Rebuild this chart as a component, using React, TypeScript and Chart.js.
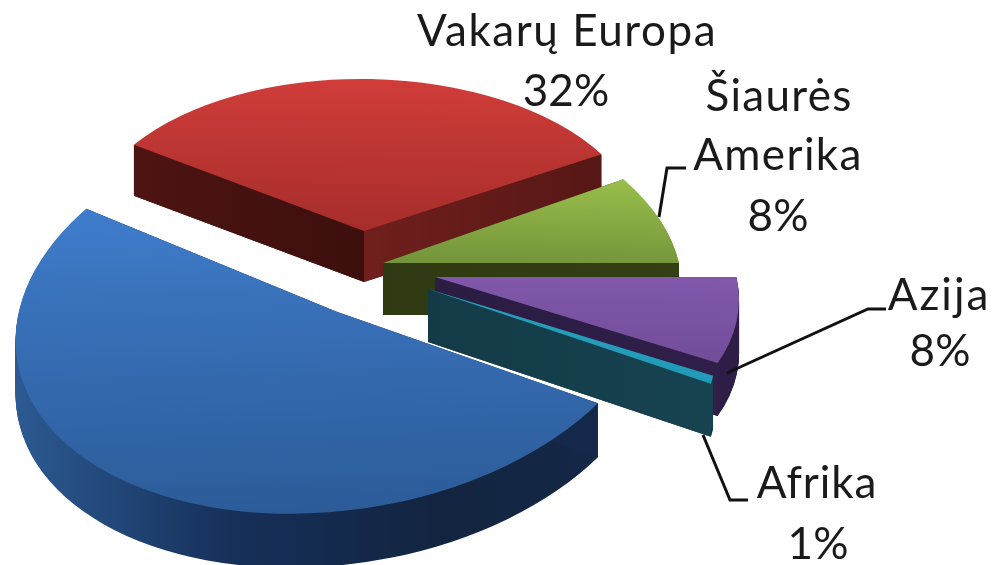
import React, { useEffect, useRef } from "react";
import { Chart, registerables } from "chart.js";

Chart.register(...registerables);

const categories = ["Vakarų Europa", "Šiaurės Amerika", "Azija", "Afrika", "Rytų Europa"];
const shares = [32, 8, 8, 1, 51];

// per-slice perspective projection of the unit pie: a,b,c,d linear part; e,f = explode origin
const projection = [
  { a: 277, b: 3, c: -2, d: 152, e: 364, f: 231, depth: 51 },
  { a: 297.5, b: 8, c: 26, d: 174, e: 383, f: 263, depth: 52 },
  { a: 303, b: 8, c: 24.5, d: 178.6, e: 435, f: 277, depth: 53 },
  { a: 267, b: 21, c: 103, d: 154, e: 428, f: 289, depth: 53 },
  { a: 319, b: -10, c: -30, d: 202, e: 336, f: 311.5, depth: 54 },
];
const topStops = [
  ["#d03d39", "#a62d2b", "#a62d2b"],
  ["#bbe65a", "#73933a", "#73933a"],
  ["#8e62bd", "#8057ab", "#5f4083"],
  ["#2aa8c6", "#25a0bd", "#1f94b0"],
  ["#4487dc", "#3870b8", "#2c5b98"],
];
const rimStops = [
  ["#4a1210", "#6e1d1a"],
  ["#3a4a16", "#33401a"],
  ["#2f1f4c", "#2e1d47"],
  ["#103a48", "#103a48"],
  ["#2c5a92", "#16305a", "#12243f", "#14294a"],
];
const faceStops = [
  [["#4d1412", "#3d0f0d"], ["#561715", "#701f1c"]],
  [["#343f14", "#343f14"], ["#343f14", "#303a12"]],
  [["#2e1f48", "#2e1f48"], ["#2f1f4a", "#2b1c42"]],
  [["#16414f", "#16414f"], ["#174350", "#133a47"]],
  [["#14294a", "#14294a"], ["#14294a", "#14294a"]],
];
const labelLines = [
  [{ t: "Vakarų Europa", x: 567, y: 32, s: 1.55 }, { t: "32%", x: 566, y: 92, s: 0 }],
  [{ t: "Šiaurės", x: 779, y: 97, s: 1.3 }, { t: "Amerika", x: 778, y: 156, s: 1.4 }, { t: "8%", x: 778, y: 217, s: 0 }],
  [{ t: "Azija", x: 939, y: 296, s: 2 }, { t: "8%", x: 940, y: 352, s: 0 }],
  [{ t: "Afrika", x: 817, y: 484, s: 0.9 }, { t: "1%", x: 818, y: 545, s: 0 }],
];
const leaders = [
  [[659, 217], [667, 168], [686, 168]],
  [[727, 373], [868, 309], [886, 309]],
  [[703, 435], [730, 500], [748, 500]],
];

const piePlugin = {
  id: "pie3d",
  beforeDatasetDraw(chart: any) {
    const ctx: CanvasRenderingContext2D = chart.ctx;
    const els = chart.getDatasetMeta(0).data;
    els.forEach((el: any, i: number) => {
      const p = projection[i];
      const R = el.outerRadius;
      const pt = (ang: number) => ({
        x: p.e + p.a * Math.cos(ang) + p.c * Math.sin(ang),
        y: p.f + p.b * Math.cos(ang) + p.d * Math.sin(ang),
      });
      const A = pt(el.startAngle);
      const B = pt(el.endAngle);
      const local = (dy: number) => {
        ctx.setTransform(p.a / R, p.b / R, p.c / R, p.d / R, p.e, p.f + dy);
        ctx.translate(-el.x, -el.y);
      };
      const span = Math.hypot(p.a, p.c);
      const g = ctx.createLinearGradient(p.e - span, 0, p.e + span, 0);
      rimStops[i].forEach((c, k, arr) => g.addColorStop(k / (arr.length - 1), c));
      ctx.save();
      for (let dy = p.depth; dy >= 1; dy--) {
        ctx.beginPath();
        local(dy);
        ctx.moveTo(el.x, el.y);
        ctx.arc(el.x, el.y, R, el.startAngle, el.endAngle);
        ctx.closePath();
        ctx.setTransform(1, 0, 0, 1, 0, 0);
        ctx.fillStyle = g;
        ctx.fill();
      }
      [A, B].forEach((Q, k) => {
        const fg = ctx.createLinearGradient(Q.x, 0, p.e, 0);
        fg.addColorStop(0, faceStops[i][k][0]);
        fg.addColorStop(1, faceStops[i][k][1]);
        ctx.beginPath();
        ctx.moveTo(p.e, p.f);
        ctx.lineTo(Q.x, Q.y);
        ctx.lineTo(Q.x, Q.y + p.depth);
        ctx.lineTo(p.e, p.f + p.depth);
        ctx.closePath();
        ctx.fillStyle = fg;
        ctx.fill();
      });
      local(0);
      el.draw(ctx);
      ctx.restore();
    });
    return false;
  },
  afterDatasetsDraw(chart: any) {
    const ctx: CanvasRenderingContext2D = chart.ctx;
    ctx.save();
    ctx.strokeStyle = "#111";
    ctx.lineWidth = 3;
    leaders.forEach((l) => {
      ctx.beginPath();
      l.forEach(([x, y], i) => (i ? ctx.lineTo(x, y) : ctx.moveTo(x, y)));
      ctx.stroke();
    });
    ctx.fillStyle = "#1a1a1a";
    ctx.font = "44px Lato";
    ctx.textAlign = "center";
    ctx.textBaseline = "middle";
    labelLines.flat().forEach((l) => {
      (ctx as any).letterSpacing = `${l.s}px`;
      ctx.fillText(l.t, l.x, l.y);
    });
    ctx.restore();
  },
};

export default function App() {
  const ref = useRef<HTMLCanvasElement>(null);
  useEffect(() => {
    const chart = new Chart(ref.current!, {
      type: "pie",
      data: {
        labels: categories,
        datasets: [
          {
            data: shares,
            borderWidth: 0,
            backgroundColor: (c: any) => {
              const h = c.chart.height;
              const g = c.chart.ctx.createLinearGradient(0, 0, 0, h);
              const s = topStops[c.dataIndex] || topStops[0];
              s.forEach((col: string, k: number) => g.addColorStop(k / (s.length - 1), col));
              return g;
            },
          },
        ],
      },
      options: {
        responsive: false,
        animation: false,
        rotation: -56.6,
        layout: { padding: 0 },
        plugins: { legend: { display: false }, tooltip: { enabled: false } },
      },
      plugins: [piePlugin],
    } as any);
    return () => chart.destroy();
  }, []);
  return (
    <div style={{ position: "absolute", left: 0, top: 0, width: 992, height: 565, background: "#fff", overflow: "hidden" }}>
      <canvas ref={ref} width={992} height={565} style={{ display: "block", filter: "blur(0.6px)" }} />
    </div>
  );
}
